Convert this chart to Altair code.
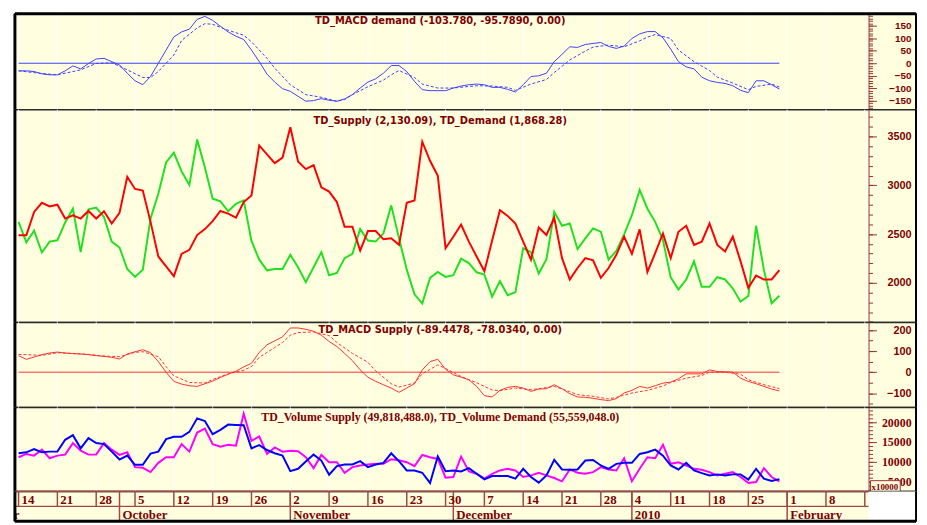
import altair as alt
import pandas as pd

# trading-day index: 0 = Mon 14 Sep 2009 ... 98 = Fri 29 Jan 2010 (1 Jan 2010 absent)
days = list(range(99))

# TD_Supply (red) and TD_Demand (green)
supply = [2487, 2487, 2727, 2821, 2784, 2801, 2659, 2693, 2659, 2737,
          2659, 2733, 2608, 2717, 3088, 2963, 2946, 2625, 2270, 2169,
          2068, 2297, 2338, 2490, 2551, 2632, 2737, 2710, 2669, 2828,
          2896, 3409, 3318, 3227, 3284, 3595, 3244, 3166, 3207, 2980,
          2936, 2828, 2575, 2575, 2331, 2531, 2531, 2446, 2456, 2389,
          2821, 2845, 3447, 3251, 3098, 2355, 2473, 2598, 2422, 2270,
          2118, 2433, 2744, 2686, 2608, 2422, 2237, 2568, 2490, 2666,
          2253, 2034, 2152, 2253, 2230, 2051, 2152, 2287, 2473, 2297,
          2548, 2111, 2304, 2507, 2253, 2524, 2585, 2389, 2422, 2608,
          2389, 2321, 2473, 2220, 1949, 2074, 2034, 2034, 2130]
demand = [2625, 2416, 2534, 2311, 2423, 2436, 2619, 2760, 2314, 2754,
          2771, 2676, 2423, 2362, 2142, 2061, 2135, 2659, 2913, 3234,
          3335, 3142, 3004, 3470, 3183, 2862, 2835, 2734, 2811, 2845,
          2429, 2237, 2128, 2142, 2142, 2287, 2159, 2007, 2159, 2314,
          2078, 2101, 2253, 2297, 2551, 2433, 2423, 2507, 2794, 2456,
          2135, 1882, 1787, 2051, 2111, 2061, 2078, 2247, 2203, 2108,
          2084, 1858, 2017, 1872, 1905, 2355, 2314, 2095, 2243, 2727,
          2585, 2608, 2345, 2456, 2558, 2524, 2237, 2328, 2497, 2693,
          2953, 2760, 2625, 2439, 2057, 1932, 2034, 2220, 1959, 1959,
          2057, 2034, 1942, 1807, 1865, 2585, 2135, 1790, 1868]

# TD_MACD demand (blue solid) and its signal (blue dashed)
macd_demand = [-30.6, -30.6, -33.3, -42.6, -46.6, -46.6, -30.6, -10.7, -22.7, -1.4,
               17.2, 19.8, 6.5, -6.7, -40, -70.5, -86.4, -53.2, -0.1, 53,
               106, 126, 137, 176.5, 188.5, 172.5, 148.6, 126, 108.8, 95.5,
               53, 6.5, -43.9, -75.8, -102.4, -113, -132.9, -152.8, -150.2, -142.2,
               -148.8, -152.8, -143.5, -126.3, -99.7, -75.8, -62.5, -40, -9.4, -9.4,
               -33.3, -73.1, -106.3, -110.3, -110.3, -110.3, -99.7, -91.7, -86.4, -83.8,
               -86.4, -97, -97, -105, -115.6, -86.4, -53.2, -50.6, -39.9, 6.5,
               35.8, 66.3, 63.6, 75.6, 79.6, 83.6, 67.6, 59.7, 69, 99.5,
               118.1, 127.4, 127.4, 102.2, 57, 6.5, -14.7, -22.7, -55.9, -70.5,
               -77.1, -81.1, -90.4, -109, -118.3, -70.5, -70.5, -86.4, -103.8]
macd_demand_sig_idx = [0, 3, 5, 8, 10, 12, 14, 16, 17, 18, 20, 21, 23, 24, 25, 27, 29, 30, 32, 33,
                       35, 37, 39, 41, 42, 43, 45, 47, 48, 49, 51, 52, 54, 56, 59, 61, 63, 64, 66, 68,
                       69, 71, 73, 74, 76, 78, 80, 81, 82, 84, 85, 87, 89, 90, 92, 94, 95, 97, 98]
macd_demand_sig = [-30.6, -41.3, -46.6, -26.7, -0.8, 1.9, -26.7, -57.2, -57.2, -33.3,
                   33.1, 91.5, 142, 159.3, 156.6, 132.7, 112.8, 86.2, 19.8, -20,
                   -86.4, -126.3, -136.9, -152.8, -146.2, -126.3, -94.4, -67.8, -46.6, -29.3,
                   -57.2, -83.8, -99.7, -99.7, -90.4, -91.7, -97, -109, -83.8, -65.2,
                   -37.3, 13.2, 49, 65, 73, 66.3, 90.2, 104.8, 115.4, 99.5,
                   53, 6.5, -29.3, -55.9, -79.8, -106.3, -93.1, -83.8, -95.8]

# TD_MACD Supply (red solid) and its signal (red dashed)
macd_supply = [78.5, 61.2, 72.2, 83.2, 91.1, 95.8, 91.1, 87.9, 86.4, 83.2,
               78.5, 75.4, 70.6, 62.8, 86.4, 97.4, 106.8, 92.7, 50.2, 0,
               -44, -56.7, -64.6, -67.7, -55.1, -42.5, -25.3, -9.5, 4.6, 25,
               42.3, 94.2, 130.4, 149.2, 168.1, 210.5, 210.5, 204.3, 194.8, 176,
               146.1, 122.5, 89.5, 54.9, 10.9, -23.7, -44.1, -59.8, -75.6, -96,
               -75.6, -55.1, 10.9, 50.2, 61.2, 14, -12.7, -23.7, -36.3, -67.7,
               -111.7, -118, -86.6, -72.4, -67.7, -75.6, -91.3, -80.3, -78.7, -59.8,
               -78.7, -102.3, -118, -119.6, -124.3, -130.6, -135.3, -125.9, -99.1, -86.6,
               -67.7, -75.6, -64.6, -52, -47.3, -31.5, -7.9, -7.9, -7.9, 10.9,
               3, 1.5, 0, -28.4, -44.1, -55.1, -67.7, -80.3, -89.4]
macd_supply_sig_idx = [0, 3, 5, 7, 9, 11, 13, 15, 16, 18, 19, 20, 22, 24, 25, 27, 29, 30, 31, 33,
                       34, 35, 36, 38, 40, 41, 43, 45, 46, 48, 49, 51, 52, 54, 55, 57, 59, 61, 62, 64,
                       66, 67, 69, 71, 72, 74, 76, 77, 79, 81, 83, 84, 86, 88, 89, 91, 93, 94, 96, 98]
macd_supply_sig = [84.8, 80.1, 92.6, 89.5, 84.8, 76.9, 73.8, 94.2, 97.4, 73.8,
                   26.6, -17.4, -48.8, -52, -34.7, -8, 9.3, 26.6, 70.6, 117.8,
                   141.4, 176, 188.5, 191.7, 174.4, 141.4, 89.5, 47.1, 6.2, -55.1,
                   -70.8, -52, -8, 34.5, 17.2, -20.5, -50.4, -85, -88.1, -75.6,
                   -83.4, -78.7, -67.7, -92.9, -107, -114.9, -127.4, -119.6, -99.1, -86.6,
                   -66.1, -48.8, -28.4, -15.8, 0, 0, -9.5, -36.3, -59.8, -78.0]

# TD_Volume (in units of 10000): supply (magenta), demand (blue)
vol_supply = [11120, 11960, 11540, 13050, 10870, 11540, 11790, 14720, 12800, 11790,
              11790, 14720, 13050, 11710, 12380, 8610, 8440, 7350, 9700, 11120,
              11120, 14470, 12550, 17400, 18410, 14470, 13800, 14300, 14050, 22180,
              15310, 16400, 11960, 13630, 12550, 12800, 12630, 11120, 8360, 11710,
              9860, 9860, 7180, 8610, 9030, 9280, 9450, 9450, 10620, 10370,
              9860, 8860, 11710, 11120, 10700, 5930, 6100, 11290, 7520, 6930,
              5680, 6930, 7770, 8190, 7770, 6100, 6510, 7180, 6510, 5840,
              5010, 8020, 7180, 6930, 7350, 8610, 8020, 7770, 10870, 5010,
              8190, 11120, 10870, 14300, 9450, 9860, 9030, 8190, 7940, 7350,
              6510, 6930, 7350, 6100, 4590, 4840, 8360, 6100, 4980]
vol_demand = [12130, 12380, 13220, 12380, 12550, 12550, 15560, 16730, 13380, 15980,
              14720, 14470, 12550, 10540, 11540, 9200, 9200, 12040, 12550, 15730,
              16320, 16320, 17570, 21010, 20340, 16990, 18070, 19420, 19330, 19250,
              13380, 14220, 12960, 12130, 11540, 7600, 8190, 10030, 11790, 10280,
              6680, 8860, 9280, 9280, 10120, 8610, 9280, 9700, 12130, 10120,
              7770, 7770, 7180, 4590, 11370, 7600, 7770, 7520, 8360, 6930,
              5510, 6350, 6350, 6350, 5680, 8190, 6100, 4670, 6510, 10450,
              8020, 7940, 8020, 10280, 10450, 9030, 8190, 9450, 9700, 9700,
              11960, 12380, 13050, 11540, 9030, 8020, 9700, 7770, 7100, 6510,
              6770, 6510, 6770, 6770, 5430, 8190, 5680, 5090, 5560]

# x-axis: weekly (Monday) ticks and month starts, as trading-day indices
week_idx = [0, 5, 10, 15, 20, 25, 30, 35, 40, 45, 50, 55, 60, 65, 70, 75, 79, 84, 89, 94, 99, 104, 109]
week_lbl = ["14", "21", "28", "5", "12", "19", "26", "2", "9", "16", "23", "30",
            "7", "14", "21", "28", "4", "11", "18", "25", "1", "8", "15"]
month_idx = [13, 35, 56, 79, 99]
month_lbl = ["October", "November", "December", "2010", "February"]
lead_month_idx = [0]
lead_month_lbl = ["September"]

title1 = "TD_MACD demand (-103.780, -95.7890, 0.00)"
title2 = "TD_Supply (2,130.09), TD_Demand (1,868.28)"
title3 = "TD_MACD Supply (-89.4478, -78.0340, 0.00)"
title4 = "TD_Volume Supply (49,818,488.0), TD_Volume Demand (55,559,048.0)"
vol_unit = "x10000"

# ---------------------------------------------------------------- styling
CREAM = "#FFFFE0"
TXT = "#800000"
AXC = "#993333"
LINEC = "#A04848"
BLUE1 = "#3F3FFF"
W = 911
H1, H2, H3, H4, H5 = 97, 215, 86, 85, 30
XS = alt.Scale(domain=[-0.47, 115.6], nice=False, zero=False)
SANS = "DejaVu Sans"
LSANS = "Liberation Sans"
SERIF = "Liberation Serif"

df = pd.DataFrame({"day": days, "supply": supply, "demand": demand,
                   "macd_d": macd_demand, "macd_s": macd_supply,
                   "vol_s": vol_supply, "vol_d": vol_demand})
sig_d = pd.DataFrame({"day": macd_demand_sig_idx, "v": macd_demand_sig})
sig_s = pd.DataFrame({"day": macd_supply_sig_idx, "v": macd_supply_sig})
weeks = pd.DataFrame({"day": week_idx, "lbl": week_lbl})
months = pd.DataFrame({"day": month_idx, "lbl": month_lbl})
lead = pd.DataFrame({"day": lead_month_idx, "lbl": lead_month_lbl})
zero_df = pd.DataFrame({"x": [days[0]], "x2": [days[-1]], "y": [0]})
one = pd.DataFrame({"a": [0]})


def xq(field):
    return alt.X(f"{field}:Q", scale=XS, axis=None)


def y_axes(major, minor, font, size):
    maj = alt.Axis(orient="right", offset=-48, values=major, format="d", tickSize=8, tickWidth=1,
                   tickColor=AXC, domainColor=AXC, domainWidth=1,
                   labelColor=TXT, labelFont=font, labelFontSize=size, labelFontWeight="bold",
                   labelAlign="right", labelBaseline="middle", labelPadding=35,
                   labelOverlap=False, labelFlush=False, grid=False, title=None)
    mnr = alt.Axis(orient="right", offset=-48, values=minor, tickSize=4, tickWidth=1,
                   tickColor=AXC, labels=False, domain=False, grid=False, title=None)
    return maj, mnr


def title_layer(text, y, font, size):
    return alt.Chart(pd.DataFrame({"t": [text]})).mark_text(
        align="center", baseline="alphabetic", font=font, fontSize=size,
        fontWeight="bold", color=TXT).encode(x=alt.value(430), y=alt.value(y), text="t:N")


def frame(h, top=False, bottom=False):
    layers = [
        alt.Chart(one).mark_rule(color="black", strokeWidth=3).encode(
            x=alt.value(0), y=alt.value(0), y2=alt.value(h)),
        alt.Chart(one).mark_rule(color="black", strokeWidth=2).encode(
            x=alt.value(W), y=alt.value(0), y2=alt.value(h)),
    ]
    if top:
        layers.append(alt.Chart(one).mark_rule(color="black", strokeWidth=3).encode(
            x=alt.value(0), x2=alt.value(W), y=alt.value(0)))
    if bottom:
        layers.append(alt.Chart(one).mark_rule(color="black", strokeWidth=3).encode(
            x=alt.value(0), x2=alt.value(W), y=alt.value(h)))
    return layers


grid = alt.Chart(weeks).mark_rule(color="white", strokeWidth=1).encode(x=xq("day"))

# ---- panel 1: MACD demand
ys1 = alt.Scale(domain=[-187, 199], nice=False, zero=False)
maj1, mnr1 = y_axes([-150, -100, -50, 0, 50, 100, 150], list(range(-180, 200, 10)), LSANS, 10)
p1 = alt.layer(
    grid,
    alt.Chart(zero_df).mark_rule(color=BLUE1, strokeWidth=1).encode(
        x=xq("x"), x2=alt.X2("x2"), y=alt.Y("y:Q", scale=ys1, axis=None)),
    alt.Chart(df).mark_line(color=BLUE1, strokeWidth=1).encode(
        x=xq("day"), y=alt.Y("macd_d:Q", scale=ys1, axis=maj1)),
    alt.Chart(sig_d).mark_line(color=BLUE1, strokeWidth=1, strokeDash=[3, 2]).encode(
        x=xq("day"), y=alt.Y("v:Q", scale=ys1, axis=mnr1)),
    title_layer(title1, 10, SANS, 10),
    *frame(H1, top=True),
).resolve_scale(y="shared").resolve_axis(y="independent").properties(width=W, height=H1)

# ---- panel 2: supply / demand
ys2 = alt.Scale(domain=[1594, 3775], nice=False, zero=False)
maj2, mnr2 = y_axes([2000, 2500, 3000, 3500], list(range(1600, 3800, 100)), LSANS, 11)
p2 = alt.layer(
    grid,
    alt.Chart(df).mark_line(color="#20E020", strokeWidth=2).encode(
        x=xq("day"), y=alt.Y("demand:Q", scale=ys2, axis=mnr2)),
    alt.Chart(df).mark_line(color="#FF0000", strokeWidth=2).encode(
        x=xq("day"), y=alt.Y("supply:Q", scale=ys2, axis=maj2)),
    title_layer(title2, 14.5, SANS, 10),
    *frame(H2),
).resolve_scale(y="shared").resolve_axis(y="independent").properties(width=W, height=H2)

# ---- panel 3: MACD supply
ys3 = alt.Scale(domain=[-168, 237], nice=False, zero=False)
maj3, mnr3 = y_axes([-100, 0, 100, 200], list(range(-150, 250, 50)), LSANS, 11)
p3 = alt.layer(
    grid,
    alt.Chart(zero_df).mark_rule(color="#FF3030", strokeWidth=1).encode(
        x=xq("x"), x2=alt.X2("x2"), y=alt.Y("y:Q", scale=ys3, axis=None)),
    alt.Chart(df).mark_line(color="#FF3030", strokeWidth=1).encode(
        x=xq("day"), y=alt.Y("macd_s:Q", scale=ys3, axis=maj3)),
    alt.Chart(sig_s).mark_line(color="#FF3030", strokeWidth=1, strokeDash=[3, 2]).encode(
        x=xq("day"), y=alt.Y("v:Q", scale=ys3, axis=mnr3)),
    title_layer(title3, 11, SANS, 10),
    *frame(H3),
).resolve_scale(y="shared").resolve_axis(y="independent").properties(width=W, height=H3)

# ---- panel 4: volume
ys4 = alt.Scale(domain=[2412, 23770], nice=False, zero=False)
maj4, mnr4 = y_axes([5000, 10000, 15000, 20000], list(range(3000, 24000, 1000)), SERIF, 12)
p4 = alt.layer(
    grid,
    alt.Chart(df).mark_line(color="#FF00FF", strokeWidth=2).encode(
        x=xq("day"), y=alt.Y("vol_s:Q", scale=ys4, axis=mnr4)),
    alt.Chart(df).mark_line(color="#0000FF", strokeWidth=2).encode(
        x=xq("day"), y=alt.Y("vol_d:Q", scale=ys4, axis=maj4)),
    title_layer(title4, 13.5, SERIF, 12),
    alt.Chart(one).mark_rect(fill=CREAM, stroke=AXC, strokeWidth=1).encode(
        x=alt.value(865), x2=alt.value(895), y=alt.value(74), y2=alt.value(85)),
    alt.Chart(pd.DataFrame({"t": [vol_unit]})).mark_text(
        align="left", baseline="alphabetic", font=SERIF, fontSize=9, fontWeight="bold",
        color=TXT).encode(x=alt.value(866), y=alt.value(83), text="t:N"),
    *frame(H4),
).resolve_scale(y="shared").resolve_axis(y="independent").properties(width=W, height=H4)

# ---- panel 5: date axis
txt_kw = dict(baseline="alphabetic", font=SERIF, fontSize=13, fontWeight="bold", color=TXT, clip=True)
p5 = alt.layer(
    alt.Chart(months).mark_rule(color=LINEC, strokeWidth=1.5).encode(
        x=xq("day"), y=alt.value(0), y2=alt.value(H5)),
    alt.Chart(weeks).mark_rule(color=LINEC, strokeWidth=1.5).encode(
        x=xq("day"), y=alt.value(0), y2=alt.value(15)),
    alt.Chart(weeks).mark_text(align="left", dx=3, **txt_kw).encode(
        x=xq("day"), y=alt.value(12.5), text="lbl:N"),
    alt.Chart(months).mark_text(align="left", dx=3, **txt_kw).encode(
        x=xq("day"), y=alt.value(28), text="lbl:N"),
    alt.Chart(lead).mark_text(align="right", dx=1, **txt_kw).encode(
        x=xq("day"), y=alt.value(28), text="lbl:N"),
    alt.Chart(one).mark_rect(color="white").encode(
        x=alt.value(863), x2=alt.value(W), y=alt.value(0), y2=alt.value(H5)),
    alt.Chart(one).mark_rule(color=LINEC, strokeWidth=1.5).encode(
        x=alt.value(0), x2=alt.value(863), y=alt.value(15)),
    alt.Chart(one).mark_rule(color=LINEC, strokeWidth=1.5).encode(
        x=alt.value(0), x2=alt.value(863), y=alt.value(0)),
    *frame(H5, bottom=True),
).properties(width=W, height=H5)

chart = alt.vconcat(p1, p2, p3, p4, p5, spacing=0, bounds="flush").properties(
    padding={"left": 4, "top": 0, "right": 0, "bottom": 0},
    background="white",
).configure_view(fill=CREAM, stroke="#2A2A2A", strokeWidth=1.5)

chart.save("out.html", embed_options={"renderer": "svg", "actions": False})
